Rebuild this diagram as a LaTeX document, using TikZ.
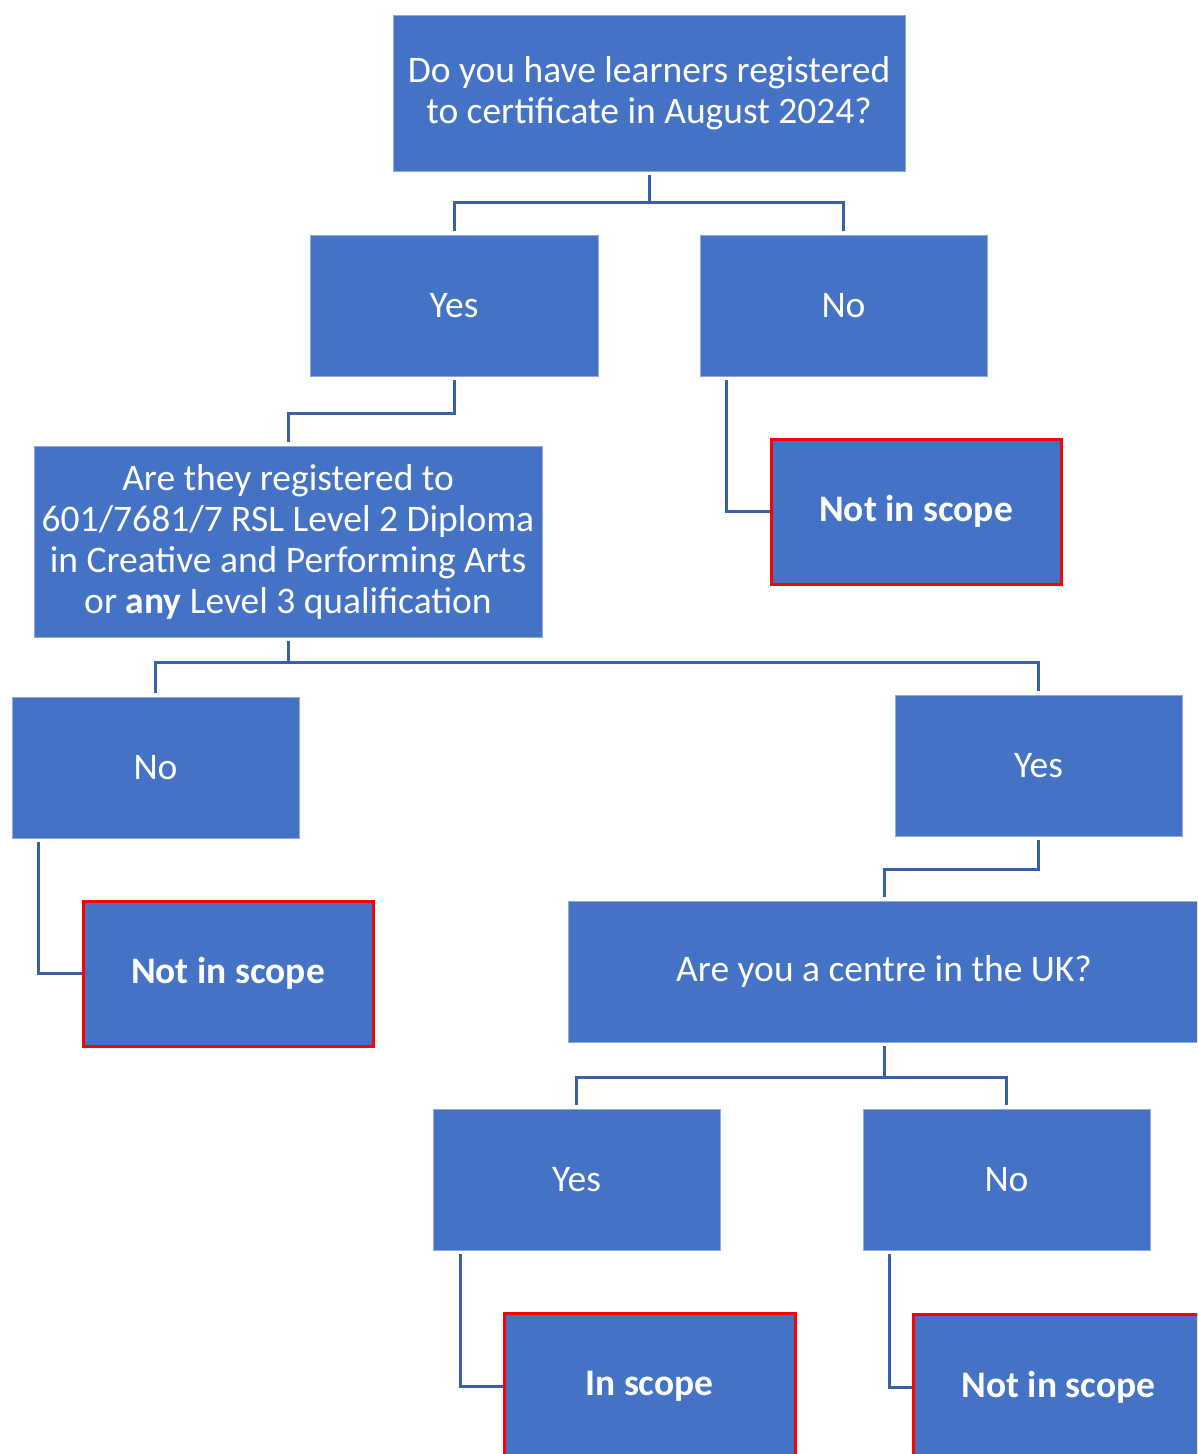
\documentclass[tikz,border=0pt]{standalone}
\usepackage{fontspec}
\setmainfont{Carlito}
\definecolor{boxblue}{HTML}{4472C4}
\definecolor{boxedge}{HTML}{8FAADC}
\definecolor{linkblue}{HTML}{3A5FA8}
\definecolor{scopered}{HTML}{FF0000}
\begin{document}
\begin{tikzpicture}[x=1pt,y=-1pt,
  box/.style={fill=boxblue,draw=boxedge,line width=0.8pt,text=white,align=center,inner sep=0pt,
    font=\fontsize{37.5}{41}\selectfont},
  endbox/.style={box,draw=scopered,line width=3pt,font=\fontsize{37.5}{41}\selectfont\bfseries},
  link/.style={draw=linkblue,line width=3pt}]
\useasboundingbox (0,0) rectangle (1197,1454);
\clip (0,0) rectangle (1197,1454);
\fill[white] (0,0) rectangle (1197,1454);

\node[box,minimum width=512pt,minimum height=156pt] (q1) at (649,93)
  {Do you have learners registered\\to certificate in August 2024?};
\node[box,minimum width=288pt,minimum height=141pt] (yes1) at (454,305.5) {Yes};
\node[box,minimum width=287pt,minimum height=141pt] (no1) at (843.5,305.5) {No};
\node[endbox,minimum width=290pt,minimum height=145pt] (nis1) at (916,511.5) {Not in scope};
\node[box,minimum width=508pt,minimum height=191pt] (q2) at (288,541.5)
  {Are they registered to\\601/7681/7 RSL Level 2 Diploma\\in Creative and Performing Arts\\or \textbf{any} Level 3 qualification};
\node[box,minimum width=287pt,minimum height=141pt] (no2) at (155.5,767.5) {No};
\node[box,minimum width=287pt,minimum height=141pt] (yes2) at (1038.5,765.5) {Yes};
\node[endbox,minimum width=290pt,minimum height=145pt] (nis2) at (228,973.5) {Not in scope};
\node[box,minimum width=632pt,minimum height=141pt] (q3) at (884,971.5) {Are you a centre in the UK?};
\node[box,minimum width=287pt,minimum height=141pt] (yes3) at (576.5,1179.5) {Yes};
\node[box,minimum width=287pt,minimum height=141pt] (no3) at (1006.5,1179.5) {No};
\node[endbox,minimum width=291pt,minimum height=146pt] (is) at (649.5,1386) {In scope};
\node[endbox,minimum width=291pt,minimum height=146pt] (nis3) at (1058.5,1387) {Not in scope};

% q1 -> yes1 / no1
\coordinate (j1) at (649,202);
\draw[link] ([yshift=-4pt]q1.south) -- (j1);
\draw[link] (j1) -| ([yshift=4pt]yes1.north);
\draw[link] (j1) -| ([yshift=4pt]no1.north);
% no1 -> nis1
\draw[link] ([xshift=27pt,yshift=-4pt]no1.south west) |- (nis1.west);
% yes1 -> q2
\draw[link] ([yshift=-4pt]yes1.south) -- ++(0,33) -| ([yshift=4pt]q2.north);
% q2 -> no2 / yes2
\coordinate (j2) at (288,662);
\draw[link] ([yshift=-4pt]q2.south) -- (j2);
\draw[link] (j2) -| ([yshift=4pt]no2.north);
\draw[link] (j2) -| ([yshift=4pt]yes2.north);
% no2 -> nis2
\draw[link] ([xshift=27pt,yshift=-4pt]no2.south west) |- (nis2.west);
% yes2 -> q3
\draw[link] ([yshift=-4pt]yes2.south) -- ++(0,29) -| ([yshift=4pt]q3.north);
% q3 -> yes3 / no3
\coordinate (j3) at (884,1077);
\draw[link] ([yshift=-4pt]q3.south) -- (j3);
\draw[link] (j3) -| ([yshift=4pt]yes3.north);
\draw[link] (j3) -| ([yshift=4pt]no3.north);
% yes3 -> is, no3 -> nis3
\draw[link] ([xshift=28pt,yshift=-4pt]yes3.south west) |- (is.west);
\draw[link] ([xshift=27pt,yshift=-4pt]no3.south west) |- (nis3.west);
\end{tikzpicture}
\end{document}
